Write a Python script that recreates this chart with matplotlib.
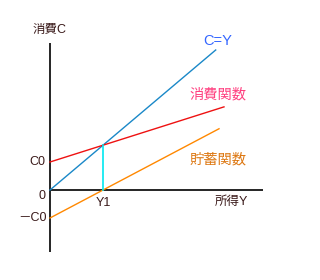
import matplotlib
matplotlib.use("Agg")
import matplotlib.pyplot as plt
import numpy as np

plt.rcParams['font.family'] = ['Liberation Sans', 'Noto Sans CJK JP', 'DejaVu Sans']

# ---- data ----
C0 = 20.0            # autonomous consumption
mpc = 0.375          # marginal propensity to consume
cy_income = [0, 100]         # C = Y line span
cons_income = [0, 105]       # consumption function span
sav_income = [0, 102]        # savings function span
y_axis_range = [-44, 105]
x_axis_range = [0, 128.5]

labels = {
    'yaxis': '消費C', 'xaxis': '所得Y', 'cy': 'C=Y',
    'cons': '消費関数', 'sav': '貯蓄関数',
    'c0': 'C0', 'mc0': '－C0', 'o': '0', 'y1': 'Y1',
}

Y1 = C0 / (1 - mpc)

fig = plt.figure(figsize=(3.2, 2.8), dpi=100)
ax = fig.add_axes([0, 0, 1, 1])
sx, sy = 1.657, 1.4
ax.set_xlim(-50 / sx, 270 / sx)
ax.set_ylim(-90 / sy, 190 / sy)
ax.axis('off')

dark = '#3a1a1a'
# axes
ax.plot([0, 0], y_axis_range, color='black', lw=1.2, solid_capstyle='butt')
ax.plot(x_axis_range, [0, 0], color='black', lw=1.2, solid_capstyle='butt')

# lines
x = np.array(cy_income)
ax.plot(x, x, color='#1a88c8', lw=1.0)
x = np.array(cons_income)
ax.plot(x, C0 + mpc * x, color='#ee1111', lw=1.0)
x = np.array(sav_income)
ax.plot(x, -C0 + (1 - mpc) * x, color='#ff8800', lw=1.0)
ax.plot([Y1, Y1], [0, Y1], color='#00e8f0', lw=1.2)

fs = 10.3
ax.text(-0.3, 114.3, labels['yaxis'], ha='center', va='center', fontsize=9, color=dark)
ax.text(109.2, -8.6, labels['xaxis'], ha='center', va='center', fontsize=9, color=dark)
ax.text(101.4, 106.4, labels['cy'], ha='center', va='center', fontsize=10.5, color='#3366ff')
ax.text(101.4, 68.6, labels['cons'], ha='center', va='center', fontsize=fs, color='#ff4080')
ax.text(101.4, 22.1, labels['sav'], ha='center', va='center', fontsize=fs, color='#dd7711')
ax.text(-3, C0, labels['c0'], ha='right', va='center', fontsize=9, color=dark)
ax.text(-2, -C0, labels['mc0'], ha='right', va='center', fontsize=9, color=dark)
ax.text(-3, -4.3, labels['o'], ha='right', va='center', fontsize=9, color=dark)
ax.text(Y1, -9.5, labels['y1'], ha='center', va='center', fontsize=9, color=dark)

fig.savefig('out.png', dpi=100)
